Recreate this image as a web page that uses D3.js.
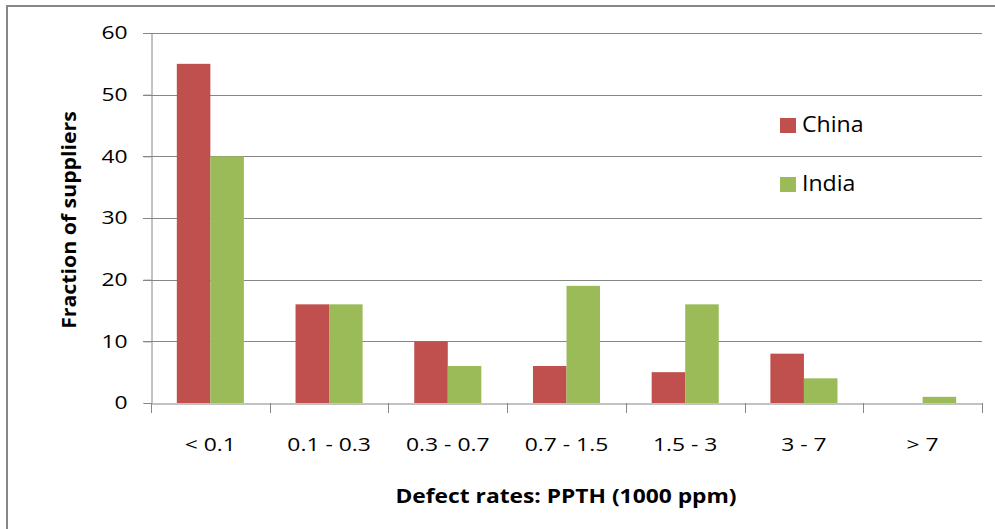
<!DOCTYPE html>
<html>
<head>
<meta charset="utf-8">
<script src="https://cdn.jsdelivr.net/npm/d3@7"></script>
<style>
	body { margin: 0; background: #fff; }
	svg text { font-family: "Open Sans", sans-serif; fill: #000; }
</style>
</head>
<body>
<div id="chart"></div>
<script>
// defect rate categories and supplier fractions
var categories = ["< 0.1", "0.1 - 0.3", "0.3 - 0.7", "0.7 - 1.5", "1.5 - 3", "3 - 7", "> 7"];
var seriesNames = ["China", "India"];
var china = [55, 16, 10, 6, 5, 8, 0];
var india = [40, 16, 6, 19, 16, 4, 1];
var yTicks = [0, 10, 20, 30, 40, 50, 60];
var colors = ["#C0504D", "#9BBB59"];

(function() {
	var w = 995,
		h = 529,
		left = 151,
		right = 982,
		top = 33,
		bottom = 403,
		stretch = 1.27; // the original text is wider than Open Sans

	var svg = d3.select("#chart")
		.append("svg")
		.attr("width", w)
		.attr("height", h);

	// outer frame (only top and left edges are visible in the original)
	svg.append("path")
		.attr("d", "M7,529 V6 H995")
		.attr("fill", "none")
		.attr("stroke", "#878787")
		.attr("stroke-width", 2);

	var x = d3.scaleBand().domain(categories).range([left, right]).paddingInner(0).paddingOuter(0);
	var inner = d3.scaleBand().domain(seriesNames).range([0, x.bandwidth()]).paddingInner(0).paddingOuter(0.77);
	var y = d3.scaleLinear().domain([0, 60]).range([bottom, top]);

	// gridlines
	svg.append("g")
		.selectAll("line")
		.data(yTicks.slice(1))
		.enter().append("line")
		.attr("x1", left - 8)
		.attr("x2", right)
		.attr("y1", function(d) { return Math.round(y(d)) + 0.5; })
		.attr("y2", function(d) { return Math.round(y(d)) + 0.5; })
		.attr("stroke", "#868686")
		.attr("stroke-width", 1);

	var rows = categories.map(function(c, i) {
		return { cat: c, vals: [china[i], india[i]] };
	});

	var groups = svg.append("g")
		.selectAll("g")
		.data(rows)
		.enter().append("g")
		.attr("transform", function(d) { return "translate(" + x(d.cat) + ",0)"; });

	groups.selectAll("rect")
		.data(function(d) { return d.vals.map(function(v, i) { return { name: seriesNames[i], v: v, i: i }; }); })
		.enter().append("rect")
		.attr("x", function(d) { return inner(d.name); })
		.attr("width", inner.bandwidth())
		.attr("y", function(d) { return y(d.v); })
		.attr("height", function(d) { return bottom - y(d.v); })
		.attr("fill", function(d) { return colors[d.i]; });

	// y axis
	var yAxis = svg.append("g")
		.attr("transform", "translate(" + (left + 0.5) + ",0)")
		.call(d3.axisLeft(y).tickValues(yTicks).tickSize(8).tickPadding(16).tickFormat(d3.format("d")));
	yAxis.select(".domain").attr("stroke", "#868686");
	yAxis.selectAll(".tick line").attr("stroke", "#868686");
	yAxis.selectAll("text")
		.attr("font-size", "18px")
		.attr("fill", "#000")
		.attr("x", -24 / stretch)
		.attr("transform", "scale(" + stretch + ",1)")
		.style("font-family", "'Open Sans', sans-serif");

	// x axis
	var xAxis = svg.append("g")
		.attr("transform", "translate(0," + (bottom + 0.5) + ")")
		.call(d3.axisBottom(x).tickSize(0).tickPadding(35));
	xAxis.select(".domain").attr("stroke", "#868686");
	xAxis.selectAll("text")
		.attr("font-size", "18px")
		.attr("fill", "#000")
		.attr("transform", "scale(" + stretch + ",1)")
		.style("font-family", "'Open Sans', sans-serif");

	// category separator ticks
	svg.append("g")
		.selectAll("line")
		.data(categories.concat([null]))
		.enter().append("line")
		.attr("x1", function(d, i) { return Math.round(left + i * x.step()) + 0.5; })
		.attr("x2", function(d, i) { return Math.round(left + i * x.step()) + 0.5; })
		.attr("y1", bottom)
		.attr("y2", bottom + 10)
		.attr("stroke", "#868686");

	// axis titles
	svg.append("text")
		.text("Defect rates: PPTH (1000 ppm)")
		.attr("transform", "translate(566,503) scale(1.2,1)")
		.attr("text-anchor", "middle")
		.attr("font-size", "19px")
		.attr("font-weight", "bold");

	svg.append("text")
		.text("Fraction of suppliers")
		.attr("transform", "translate(76,220) rotate(-90) scale(1.12,1)")
		.attr("text-anchor", "middle")
		.attr("font-size", "19px")
		.attr("font-weight", "bold");

	// legend
	var legend = svg.append("g")
		.selectAll("g")
		.data(seriesNames)
		.enter().append("g")
		.attr("transform", function(d, i) { return "translate(780," + (118 + i * 59) + ")"; });

	legend.append("rect")
		.attr("width", 16)
		.attr("height", 15)
		.attr("fill", function(d, i) { return colors[i]; });

	legend.append("text")
		.text(function(d) { return d; })
		.attr("transform", "translate(22,14) scale(1.1,1)")
		.attr("font-size", "21px");
})();
</script>
</body>
</html>
